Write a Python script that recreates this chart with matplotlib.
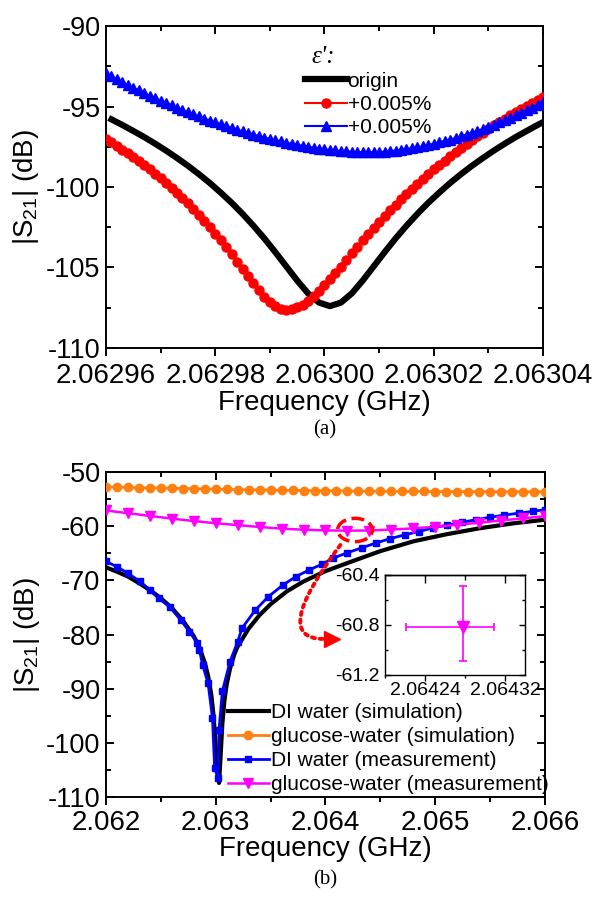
import numpy as np
import matplotlib
matplotlib.use('Agg')
import matplotlib.pyplot as plt
from matplotlib.ticker import MultipleLocator, FormatStrFormatter
from matplotlib.patches import Ellipse, FancyArrowPatch

plt.rcParams['font.family'] = ['Liberation Sans', 'DejaVu Sans']
plt.rcParams['mathtext.fontset'] = 'custom'
plt.rcParams['mathtext.rm'] = 'Liberation Sans'
plt.rcParams['axes.unicode_minus'] = False

# ---- (a) permittivity sweep ----
freq_a = np.linspace(2.06296, 2.06304, 81)
freq_a_origin = np.linspace(2.062961, 2.063041, 41)
s21_origin = [-95.80, -96.15, -96.52, -96.90, -97.31, -97.74, -98.20, -98.68, -99.20, -99.75,
              -100.35, -100.98, -101.67, -102.41, -103.20, -104.05, -104.93, -105.81, -106.61, -107.18,
              -107.40, -107.18, -106.61, -105.81, -104.93, -104.05, -103.20, -102.41, -101.67, -100.98,
              -100.35, -99.75, -99.20, -98.68, -98.20, -97.74, -97.31, -96.90, -96.52, -96.15, -95.80]
s21_plus_red = [-97.02, -97.23, -97.45, -97.68, -97.91, -98.15, -98.39, -98.65, -98.91, -99.18,
                -99.46, -99.75, -100.05, -100.36, -100.68, -101.02, -101.36, -101.72, -102.10, -102.49,
                -102.89, -103.30, -103.73, -104.18, -104.63, -105.09, -105.54, -105.99, -106.42, -106.81,
                -107.15, -107.41, -107.57, -107.63,
                -107.59, -107.48, -107.31, -107.07, -106.79, -106.46, -106.11, -105.73, -105.34, -104.94,
                -104.53, -104.12, -103.72, -103.32, -102.93, -102.55, -102.17, -101.80, -101.45, -101.10,
                -100.76, -100.43, -100.11, -99.80, -99.49, -99.20, -98.91, -98.63, -98.36, -98.09,
                -97.83, -97.58, -97.33, -97.09, -96.85, -96.62, -96.40, -96.18, -95.96, -95.75,
                -95.55, -95.35, -95.15, -94.96, -94.77, -94.58, -94.40]
s21_plus_blue = [-92.95, -93.13, -93.31, -93.49, -93.66, -93.83, -94.00, -94.16, -94.32, -94.48,
                 -94.63, -94.78, -94.93, -95.07, -95.21, -95.35, -95.49, -95.62, -95.75, -95.87,
                 -95.99, -96.11, -96.22, -96.33, -96.44, -96.55, -96.65, -96.74, -96.84, -96.93,
                 -97.01, -97.09, -97.17, -97.25, -97.32, -97.38, -97.45, -97.50, -97.56, -97.61,
                 -97.66, -97.70, -97.73, -97.77, -97.79, -97.82, -97.83, -97.84,
                 -97.85, -97.84, -97.83, -97.81, -97.78, -97.74, -97.70, -97.65, -97.59, -97.53,
                 -97.47, -97.39, -97.32, -97.23, -97.14, -97.05, -96.95, -96.85, -96.74, -96.63,
                 -96.51, -96.39, -96.26, -96.13, -95.99, -95.85, -95.70, -95.55, -95.39, -95.23,
                 -95.07, -94.90, -94.73]
labels_a = ['origin', '+0.005%', '+0.005%']

# ---- (b) DI water vs glucose-water ----
freq_di_sim = [2.0620, 2.0621, 2.0622, 2.0623, 2.0624, 2.0625, 2.0626, 2.0627, 2.0628, 2.06285,
               2.0629, 2.06293, 2.06296, 2.06298, 2.0630, 2.06302, 2.06303, 2.06304, 2.06306, 2.06308,
               2.0631, 2.06313, 2.06317, 2.0632, 2.0633, 2.0634, 2.0635, 2.06365, 2.0638, 2.0640,
               2.0642, 2.0645, 2.0648, 2.0651, 2.0654, 2.0657, 2.0660]
s21_di_sim = [-67.6, -68.4, -69.3, -70.5, -71.8, -73.3, -75.1, -77.4, -80.3, -82.3,
              -85.2, -87.6, -91.2, -95.0, -100.5, -105.5, -107.4, -104.0, -96.5, -92.0,
              -89.2, -86.3, -83.6, -82.2, -78.9, -76.4, -74.4, -72.0, -70.2, -68.3,
              -66.8, -64.6, -62.8, -61.5, -60.4, -59.5, -58.8]

freq_glu_sim = np.linspace(2.062, 2.066, 41)
s21_glu_sim = [-52.75, -52.80, -52.84, -52.89, -52.93, -52.97, -53.01, -53.05, -53.09, -53.13,
               -53.17, -53.21, -53.24, -53.28, -53.31, -53.34, -53.37, -53.40, -53.42, -53.45,
               -53.47, -53.49, -53.51, -53.52, -53.54, -53.55, -53.56, -53.57, -53.58, -53.59,
               -53.60, -53.61, -53.61, -53.62, -53.62, -53.63, -53.63, -53.64, -53.64, -53.65, -53.65]

freq_di_meas = [2.06200, 2.06210, 2.06220, 2.06231, 2.06240, 2.06248, 2.06258, 2.06268, 2.06276, 2.06283,
                2.06285, 2.06288, 2.06293, 2.06297, 2.06299, 2.06302, 2.06303, 2.06306, 2.06313, 2.06320,
                2.06324, 2.06336, 2.06348, 2.06361, 2.06373, 2.06385, 2.06397, 2.06407, 2.06420, 2.06433,
                2.06446, 2.06459, 2.06472, 2.06485, 2.06498, 2.06511, 2.06524, 2.06537, 2.06550, 2.06563,
                2.06576, 2.06589, 2.06600]
s21_di_meas = [-66.5, -67.5, -68.7, -70.2, -71.8, -73.3, -74.9, -77.3, -79.5, -81.5,
               -82.8, -85.6, -89.0, -95.4, -104.7, -106.5, -97.6, -90.5, -85.0, -81.3,
               -78.8, -75.5, -73.0, -70.9, -69.3, -68.1, -67.0, -65.9, -64.9, -64.0,
               -63.1, -62.3, -61.6, -61.0, -60.3, -59.8, -59.3, -58.8, -58.35, -57.95,
               -57.6, -57.25, -56.95]

freq_glu_meas = np.linspace(2.062, 2.066, 21)
s21_glu_meas = [-57.1, -57.6, -58.1, -58.6, -59.05, -59.45, -59.8, -60.15, -60.45, -60.65,
                -60.78, -60.82, -60.8, -60.62, -60.4, -60.1, -59.75, -59.35, -58.95, -58.55, -58.15]

labels_b = ['DI water (simulation)', 'glucose-water (simulation)',
            'DI water (measurement)', 'glucose-water (measurement)']

# inset: single glucose-water measurement point with error bars
inset_f = 2.064278
inset_s21 = -60.82
inset_ferr = [[0.000057], [0.000031]]
inset_s21err = [[0.27], [0.33]]

XTICK_FS = 20
YTICK_FS = 19.5
LABEL_FS = 20


def style(ax, xmaj, xmin, ymaj, ymin, xfmt, yfmt, xfs, yfs, lw=1.4, xpad=3):
    ax.xaxis.set_major_locator(MultipleLocator(xmaj))
    ax.xaxis.set_minor_locator(MultipleLocator(xmin))
    ax.yaxis.set_major_locator(MultipleLocator(ymaj))
    ax.yaxis.set_minor_locator(MultipleLocator(ymin))
    ax.xaxis.set_major_formatter(FormatStrFormatter(xfmt))
    ax.yaxis.set_major_formatter(FormatStrFormatter(yfmt))
    ax.tick_params(axis='x', which='both', direction='out', top=False, labelsize=xfs, width=lw, pad=xpad)
    ax.tick_params(axis='y', which='both', direction='in', left=True, right=True, labelsize=yfs, width=lw, pad=4)
    ax.tick_params(which='major', length=6)
    ax.tick_params(which='minor', length=3.5)
    for s in ax.spines.values():
        s.set_linewidth(lw)
    top = ax.secondary_xaxis('top')
    top.xaxis.set_major_locator(MultipleLocator(xmaj))
    top.xaxis.set_minor_locator(MultipleLocator(xmin))
    top.tick_params(which='both', direction='in', labeltop=False, width=lw)
    top.tick_params(which='major', length=6)
    top.tick_params(which='minor', length=3.5)
    top.spines['top'].set_linewidth(lw)


fig = plt.figure(figsize=(6.04, 9.06), dpi=100)

# ===== (a) =====
ax1 = fig.add_axes([0.1755, 0.6159, 0.7235, 0.3554])
ax1.plot(freq_a_origin, s21_origin, color='black', lw=4.5, label=labels_a[0], zorder=2)
ax1.plot(freq_a, s21_plus_red, color='red', lw=1.5, marker='o', ms=6.5, label=labels_a[1], zorder=3)
ax1.plot(freq_a, s21_plus_blue, color='blue', lw=1.5, marker='^', ms=7, label=labels_a[2], zorder=4)
ax1.set_xlim(2.06296, 2.06304)
ax1.set_ylim(-110, -90)
style(ax1, 0.00002, 0.00001, 5, 2.5, '%.5f', '%d', XTICK_FS, YTICK_FS, xpad=5)
ax1.set_xlabel('Frequency (GHz)', fontsize=LABEL_FS, labelpad=0.5)
ax1.set_ylabel('|S$_{21}$| (dB)', fontsize=LABEL_FS)
ax1.yaxis.set_label_coords(-0.148, 0.5)
ax1.text(0.47, 0.905, "ε':", transform=ax1.transAxes, fontsize=18,
         family='Liberation Serif', style='italic', ha='left', va='center')
ax1.legend(loc='upper left', bbox_to_anchor=(0.455, 0.858), frameon=False, fontsize=15,
           handlelength=2.0, handletextpad=0.05, labelspacing=0.2, borderpad=0, borderaxespad=0)
fig.text(0.538, 0.525, '(a)', fontsize=15, family='Liberation Serif', ha='center', va='center')

# ===== (b) =====
ax2 = fig.add_axes([0.1755, 0.1203, 0.7268, 0.3587])
ax2.plot(freq_di_sim, s21_di_sim, color='black', lw=3, label=labels_b[0], zorder=2)
ax2.plot(freq_glu_sim, s21_glu_sim, color='#ff8010', lw=2, marker='o', ms=6, label=labels_b[1], zorder=3)
ax2.plot(freq_di_meas, s21_di_meas, color='blue', lw=2, marker='s', ms=5, label=labels_b[2], zorder=4)
ax2.plot(freq_glu_meas, s21_glu_meas, color='magenta', lw=1.8, marker='v', ms=6.5, label=labels_b[3], zorder=5)
ax2.set_xlim(2.062, 2.066)
ax2.set_ylim(-110, -50)
style(ax2, 0.001, 0.0005, 10, 5, '%.3f', '%d', XTICK_FS, YTICK_FS)
ax2.set_xlabel('Frequency (GHz)', fontsize=LABEL_FS, labelpad=0)
ax2.set_ylabel('|S$_{21}$| (dB)', fontsize=LABEL_FS)
ax2.yaxis.set_label_coords(-0.146, 0.5)
ax2.legend(loc='lower left', bbox_to_anchor=(0.27, 0.0), frameon=False, fontsize=15,
           handlelength=2.0, handletextpad=0.1, labelspacing=0.24, borderpad=0, borderaxespad=0.15)

# red dashed ellipse around the zoomed point and dotted pointer
ax2.add_patch(Ellipse((2.064269, -60.7), width=0.000317, height=4.3, fill=False,
                      ec='red', ls='--', lw=2.5, zorder=6))
ptr_start = (2.0641357, -63.47)
ptr_end = (2.0639819, -80.81)
ax2.add_patch(FancyArrowPatch(ptr_start, ptr_end, arrowstyle='-', color='red', lw=2.8,
                              ls=(0, (0.8, 1.2)), shrinkA=0, shrinkB=0,
                              connectionstyle='angle3,angleA=-127,angleB=0', zorder=6))
ax2.plot([2.0640588], [-80.81], marker='>', color='red', ms=12, zorder=7)
fig.text(0.538, 0.029, '(b)', fontsize=15, family='Liberation Serif', ha='center', va='center')

# inset
axi = fig.add_axes([0.6374, 0.2550, 0.2318, 0.1104])
axi.errorbar([inset_f], [inset_s21], xerr=inset_ferr, yerr=inset_s21err, fmt='v', color='magenta',
             ms=9, elinewidth=1.2, capsize=3, capthick=1.2)
axi.set_xlim(2.0642, 2.06434)
axi.set_ylim(-61.2, -60.4)
style(axi, 0.00008, 0.00004, 0.4, 0.2, '%.5f', '%.1f', 14, 14, lw=1.0, xpad=1)
axi.tick_params(which='major', length=4)
axi.tick_params(which='minor', length=2.5)

fig.savefig('out.png', dpi=100)
